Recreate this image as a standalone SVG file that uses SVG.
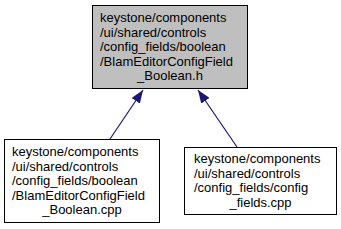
<svg xmlns="http://www.w3.org/2000/svg" width="341" height="229" viewBox="0 0 341 229">
<style>
.node rect{stroke:#000;stroke-width:1}
.node text{font-family:"Liberation Sans",Arial,sans-serif;font-size:13px;fill:#000}
.edge{stroke:#191970;stroke-width:1.2;fill:none}
</style>
<defs>
<marker id="ah" markerUnits="userSpaceOnUse" viewBox="0 0 13 10" markerWidth="13" markerHeight="10" refX="13" refY="5" orient="auto">
<path d="M0,0 L13,5 L0,10 z" fill="#191970"/>
</marker>
</defs>
<rect width="341" height="229" fill="#fff"/>
<g id="connectors">
<path class="edge" d="M110,139 L143,90" marker-end="url(#ah)"/>
<path class="edge" d="M237,147 L198,90" marker-end="url(#ah)"/>
</g>
<g id="node_header" class="node">
<rect x="92.5" y="5.5" width="155" height="83" fill="#bfbfbf"/>
<text x="100" y="22">keystone/components</text>
<text x="100" y="36.5">/ui/shared/controls</text>
<text x="100" y="51">/config_fields/boolean</text>
<text x="100" y="65.5">/BlamEditorConfigField</text>
<text x="170" y="80" text-anchor="middle">_Boolean.h</text>
</g>
<g id="node_cpp" class="node">
<rect x="4.5" y="139.5" width="155" height="83" fill="#fff"/>
<text x="12" y="156">keystone/components</text>
<text x="12" y="170.5">/ui/shared/controls</text>
<text x="12" y="185">/config_fields/boolean</text>
<text x="12" y="199.5">/BlamEditorConfigField</text>
<text x="82" y="214" text-anchor="middle">_Boolean.cpp</text>
</g>
<g id="node_config_fields" class="node">
<rect x="184.5" y="147.5" width="152" height="67" fill="#fff"/>
<text x="194" y="163">keystone/components</text>
<text x="194" y="177.5">/ui/shared/controls</text>
<text x="194" y="192">/config_fields/config</text>
<text x="260.5" y="206.5" text-anchor="middle">_fields.cpp</text>
</g>
</svg>
